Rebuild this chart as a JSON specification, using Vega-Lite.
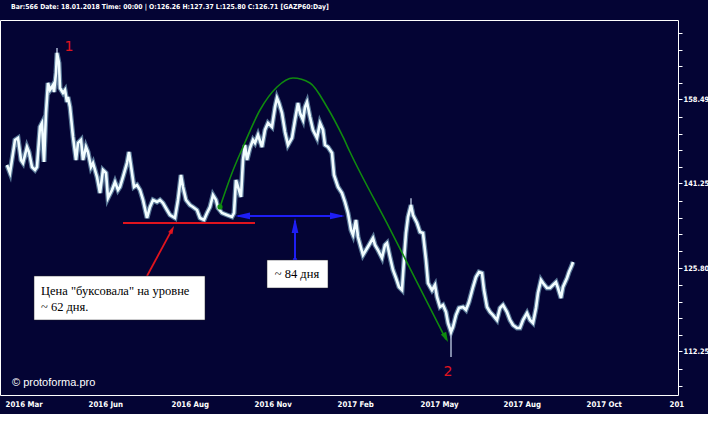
{
  "$schema": "https://vega.github.io/schema/vega-lite/v6.json",
  "width": 678,
  "height": 375,
  "autosize": {"type": "none"},
  "padding": {"left": 0, "top": 20, "right": 30, "bottom": 19},
  "background": "#040434",
  "config": {
    "view": {"stroke": "#ffffff", "strokeWidth": 1, "fill": "#040434"}
  },
  "title": {
    "text": "Bar:566 Date: 18.01.2018 Time: 00:00 | O:126.26 H:127.37 L:125.80 C:126.71  [GAZP60:Day]",
    "anchor": "start",
    "frame": "group",
    "orient": "top",
    "offset": 4,
    "dx": 11,
    "baseline": "alphabetic",
    "color": "#ffffff",
    "font": "DejaVu Sans Condensed, DejaVu Sans, sans-serif",
    "fontSize": 6.8,
    "fontWeight": "bold"
  },
  "datasets": {
    "series": [
      {"n": 7, "price": 144.86}, {"n": 10, "price": 143.29}, {"n": 15, "price": 149.92}, {"n": 18, "price": 150.32},
      {"n": 21, "price": 145.85}, {"n": 23, "price": 145.26}, {"n": 27, "price": 148.48}, {"n": 29, "price": 147.46},
      {"n": 32, "price": 144.46}, {"n": 35, "price": 143.87}, {"n": 37, "price": 144.46}, {"n": 40, "price": 152.61},
      {"n": 42, "price": 153.44}, {"n": 44, "price": 145.46}, {"n": 46, "price": 155.55}, {"n": 48, "price": 162.08},
      {"n": 50, "price": 160.53}, {"n": 53, "price": 161.64}, {"n": 54, "price": 160.09}, {"n": 56, "price": 164.32},
      {"n": 57, "price": 168.89}, {"n": 59, "price": 166.58}, {"n": 60, "price": 160.97}, {"n": 63, "price": 159.88},
      {"n": 65, "price": 160.53}, {"n": 67, "price": 157.92}, {"n": 68, "price": 159.0}, {"n": 70, "price": 156.84},
      {"n": 73, "price": 150.53}, {"n": 76, "price": 145.85}, {"n": 78, "price": 149.29}, {"n": 81, "price": 149.92},
      {"n": 83, "price": 145.85}, {"n": 86, "price": 148.48}, {"n": 88, "price": 147.46}, {"n": 91, "price": 144.46},
      {"n": 93, "price": 145.26}, {"n": 97, "price": 142.51}, {"n": 100, "price": 139.41}, {"n": 103, "price": 143.87},
      {"n": 106, "price": 143.29}, {"n": 108, "price": 138.46}, {"n": 112, "price": 139.99}, {"n": 115, "price": 141.53},
      {"n": 118, "price": 139.99}, {"n": 120, "price": 140.57}, {"n": 123, "price": 142.51}, {"n": 127, "price": 145.26},
      {"n": 129, "price": 147.46}, {"n": 132, "price": 143.29}, {"n": 134, "price": 140.57}, {"n": 137, "price": 140.95},
      {"n": 140, "price": 139.99}, {"n": 143, "price": 138.09}, {"n": 147, "price": 134.72}, {"n": 150, "price": 136.77},
      {"n": 153, "price": 138.09}, {"n": 157, "price": 137.7}, {"n": 160, "price": 138.09}, {"n": 163, "price": 137.51},
      {"n": 167, "price": 136.2}, {"n": 170, "price": 135.27}, {"n": 175, "price": 134.72}, {"n": 178, "price": 138.09},
      {"n": 181, "price": 142.9}, {"n": 183, "price": 140.57}, {"n": 186, "price": 138.09}, {"n": 190, "price": 137.13},
      {"n": 193, "price": 136.77}, {"n": 197, "price": 136.2}, {"n": 200, "price": 134.72}, {"n": 204, "price": 134.35},
      {"n": 207, "price": 135.64}, {"n": 210, "price": 136.77}, {"n": 213, "price": 139.03}, {"n": 216, "price": 138.09},
      {"n": 218, "price": 136.58}, {"n": 222, "price": 135.64}, {"n": 227, "price": 135.27}, {"n": 232, "price": 134.91},
      {"n": 234, "price": 135.64}, {"n": 236, "price": 141.91}, {"n": 238, "price": 140.57}, {"n": 241, "price": 138.66},
      {"n": 243, "price": 145.85}, {"n": 245, "price": 148.88}, {"n": 247, "price": 145.85}, {"n": 250, "price": 148.28},
      {"n": 253, "price": 149.92}, {"n": 255, "price": 149.29}, {"n": 258, "price": 150.94}, {"n": 262, "price": 148.48},
      {"n": 265, "price": 151.98}, {"n": 268, "price": 153.44}, {"n": 272, "price": 152.61}, {"n": 275, "price": 156.84},
      {"n": 277, "price": 158.79}, {"n": 279, "price": 157.7}, {"n": 282, "price": 155.55}, {"n": 285, "price": 151.57},
      {"n": 288, "price": 148.88}, {"n": 292, "price": 150.32}, {"n": 295, "price": 154.07}, {"n": 298, "price": 157.7},
      {"n": 300, "price": 155.55}, {"n": 303, "price": 154.07}, {"n": 305, "price": 156.84}, {"n": 307, "price": 157.92},
      {"n": 310, "price": 154.71}, {"n": 313, "price": 151.98}, {"n": 317, "price": 150.32}, {"n": 320, "price": 153.44},
      {"n": 323, "price": 151.98}, {"n": 325, "price": 148.88}, {"n": 328, "price": 148.48}, {"n": 332, "price": 147.26},
      {"n": 334, "price": 142.9}, {"n": 338, "price": 140.57}, {"n": 342, "price": 139.41}, {"n": 345, "price": 137.7},
      {"n": 348, "price": 135.64}, {"n": 351, "price": 132.52}, {"n": 353, "price": 131.61}, {"n": 356, "price": 134.35},
      {"n": 358, "price": 131.26}, {"n": 361, "price": 129.3}, {"n": 363, "price": 128.06}, {"n": 366, "price": 128.94},
      {"n": 369, "price": 129.83}, {"n": 373, "price": 131.08}, {"n": 375, "price": 129.83}, {"n": 378, "price": 128.94},
      {"n": 382, "price": 127.54}, {"n": 385, "price": 129.83}, {"n": 387, "price": 130.18}, {"n": 390, "price": 127.71},
      {"n": 393, "price": 125.46}, {"n": 396, "price": 124.09}, {"n": 399, "price": 122.57}, {"n": 402, "price": 122.06},
      {"n": 404, "price": 127.19}, {"n": 406, "price": 131.98}, {"n": 408, "price": 134.91}, {"n": 411, "price": 137.13},
      {"n": 413, "price": 135.27}, {"n": 417, "price": 133.8}, {"n": 420, "price": 132.16}, {"n": 423, "price": 131.98},
      {"n": 426, "price": 127.19}, {"n": 428, "price": 123.24}, {"n": 432, "price": 122.06}, {"n": 435, "price": 122.91},
      {"n": 437, "price": 120.91}, {"n": 440, "price": 119.26}, {"n": 443, "price": 119.59}, {"n": 446, "price": 118.44},
      {"n": 448, "price": 116.67}, {"n": 451, "price": 115.24}, {"n": 453, "price": 116.04}, {"n": 456, "price": 117.95},
      {"n": 459, "price": 119.1}, {"n": 463, "price": 119.26}, {"n": 466, "price": 118.77}, {"n": 469, "price": 120.08},
      {"n": 473, "price": 122.57}, {"n": 476, "price": 124.25}, {"n": 479, "price": 125.11}, {"n": 482, "price": 124.94},
      {"n": 484, "price": 122.06}, {"n": 487, "price": 119.26}, {"n": 490, "price": 118.44}, {"n": 493, "price": 117.95},
      {"n": 497, "price": 117.15}, {"n": 500, "price": 119.1}, {"n": 503, "price": 119.59}, {"n": 507, "price": 118.44},
      {"n": 510, "price": 117.15}, {"n": 513, "price": 116.35}, {"n": 517, "price": 115.88}, {"n": 520, "price": 115.88},
      {"n": 523, "price": 117.15}, {"n": 527, "price": 118.28}, {"n": 530, "price": 117.15}, {"n": 533, "price": 116.67},
      {"n": 536, "price": 119.1}, {"n": 538, "price": 121.57}, {"n": 541, "price": 123.75}, {"n": 543, "price": 123.24},
      {"n": 547, "price": 122.4}, {"n": 550, "price": 122.4}, {"n": 553, "price": 122.91}, {"n": 556, "price": 123.41},
      {"n": 558, "price": 122.4}, {"n": 561, "price": 120.73}, {"n": 563, "price": 122.57}, {"n": 567, "price": 124.09},
      {"n": 569, "price": 125.11}, {"n": 572, "price": 126.32}, {"n": 573, "price": 126.84}
    ],
    "wicks": [
      {"n": 451, "price": 116.0, "price2": 111.36},
      {"n": 57, "price": 168.0, "price2": 170.03},
      {"n": 411, "price": 136.5, "price2": 138.4}
    ],
    "segs": [
      {"grp": "red", "n": 123, "price": 133.8, "n2": 255, "price2": 133.8},
      {"grp": "red", "n": 147, "price": 124.43, "n2": 172, "price2": 132.6},
      {"grp": "blue", "n": 238, "price": 135.09, "n2": 342, "price2": 135.09},
      {"grp": "blue", "n": 295, "price": 127.19, "n2": 295, "price2": 134.2}
    ],
    "curve": [
      {"n": 220, "price": 136.77}, {"n": 232, "price": 143.29}, {"n": 243, "price": 148.48},
      {"n": 260, "price": 156.19}, {"n": 277, "price": 161.19}, {"n": 293, "price": 163.19},
      {"n": 310, "price": 162.08}, {"n": 327, "price": 156.84}, {"n": 343, "price": 150.53},
      {"n": 350, "price": 147.46}, {"n": 390, "price": 132.7}, {"n": 446, "price": 114.1}
    ],
    "tips": [
      {"tip": "left", "n": 235, "price": 135.09},
      {"tip": "right", "n": 345, "price": 135.09},
      {"tip": "up", "n": 295, "price": 134.72},
      {"tip": "green", "n": 448, "price": 113.68},
      {"tip": "red", "n": 174, "price": 133.25}
    ],
    "dots": [
      {"grp": "green", "n": 220, "price": 136.77},
      {"grp": "blue", "n": 295, "price": 127.19}
    ],
    "boxes": [
      {"n": 34, "price": 124.43, "n2": 205, "price2": 117.15},
      {"n": 267, "price": 127.19, "n2": 328, "price2": 122.4}
    ],
    "notes": [
      {"role": "box", "n": 41, "price": 121.9, "label": "Цена \"буксовала\" на уровне"},
      {"role": "box", "n": 41, "price": 119.26, "label": "~ 62 дня."},
      {"role": "boxc", "n": 297, "price": 124.77, "label": "~ 84 дня"},
      {"role": "mark", "n": 69, "price": 170.26, "label": "1"},
      {"role": "mark", "n": 448, "price": 109.1, "label": "2"},
      {"role": "wm", "n": 12, "price": 107.47, "label": "© protoforma.pro"}
    ]
  },
  "encoding": {
    "x": {
      "field": "n",
      "type": "quantitative",
      "scale": {"domain": [0, 678], "nice": false, "zero": false},
      "axis": {
        "values": [5, 88, 171, 254, 337, 420, 503, 586, 669],
        "labelExpr": "['2016 Mar','2016 Jun','2016 Aug','2016 Nov','2017 Feb','2017 May','2017 Aug','2017 Oct','201'][indexof([5,88,171,254,337,420,503,586,669], datum.value)]",
        "labelAlign": "left",
        "ticks": false,
        "domain": false,
        "grid": false,
        "title": null,
        "labelColor": "#ffffff",
        "labelFont": "DejaVu Sans Condensed, DejaVu Sans, sans-serif",
        "labelFontSize": 7.8,
        "labelFontWeight": "bold",
        "labelPadding": 5,
        "labelOverlap": false,
        "labelFlush": false,
        "labelBound": false
      }
    },
    "y": {
      "field": "price",
      "type": "quantitative",
      "scale": {"type": "log", "domain": [105.72, 176.68], "nice": false, "zero": false},
      "axis": {
        "orient": "right",
        "values": [107.08, 109.58, 112.25, 114.74, 117.41, 120.14, 122.94, 125.8, 128.73, 131.73, 134.79, 137.93, 141.25, 144.43, 147.79, 151.23, 154.75, 158.49, 162.04, 165.81, 169.68, 173.63],
        "labelExpr": "indexof([112.25,125.8,141.25,158.49], datum.value) >= 0 ? format(datum.value, '.2f') : ''",
        "tickSize": 4,
        "tickColor": "#ffffff",
        "tickWidth": 1,
        "domain": false,
        "grid": false,
        "title": null,
        "labelColor": "#ffffff",
        "labelFont": "DejaVu Sans Condensed, DejaVu Sans, sans-serif",
        "labelFontSize": 7.4,
        "labelFontWeight": "bold",
        "labelPadding": 1,
        "labelOverlap": false,
        "labelFlush": false,
        "labelBound": false
      }
    }
  },
  "layer": [
    {"data": {"name": "series"}, "mark": {"type": "line", "color": "#a9e6f5", "strokeWidth": 5, "opacity": 0.5}},
    {"data": {"name": "wicks"}, "mark": {"type": "rule", "color": "#aab6d0", "strokeWidth": 1.5}, "encoding": {"y2": {"field": "price2"}}},
    {"data": {"name": "series"}, "mark": {"type": "line", "color": "#f2fdff", "strokeWidth": 2.6}},
    {"data": {"name": "segs"}, "transform": [{"filter": "datum.grp == 'red'"}], "mark": {"type": "rule", "color": "#e0141e", "strokeWidth": 1.8}, "encoding": {"x2": {"field": "n2"}, "y2": {"field": "price2"}}},
    {"data": {"name": "segs"}, "transform": [{"filter": "datum.grp == 'blue'"}], "mark": {"type": "rule", "color": "#1e1ef5", "strokeWidth": 2}, "encoding": {"x2": {"field": "n2"}, "y2": {"field": "price2"}}},
    {"data": {"name": "curve"}, "mark": {"type": "line", "color": "#0f8a0f", "strokeWidth": 1.6, "interpolate": "monotone"}},
    {"data": {"name": "tips"}, "transform": [{"filter": "datum.tip == 'left'"}], "mark": {"type": "point", "shape": "M0,0 L-0.45,2 L0.45,2 Z", "filled": true, "opacity": 1, "size": 225, "angle": 270, "color": "#1e1ef5"}},
    {"data": {"name": "tips"}, "transform": [{"filter": "datum.tip == 'right'"}], "mark": {"type": "point", "shape": "M0,0 L-0.45,2 L0.45,2 Z", "filled": true, "opacity": 1, "size": 225, "angle": 90, "color": "#1e1ef5"}},
    {"data": {"name": "tips"}, "transform": [{"filter": "datum.tip == 'up'"}], "mark": {"type": "point", "shape": "M0,0 L-0.45,2 L0.45,2 Z", "filled": true, "opacity": 1, "size": 225, "angle": 0, "color": "#1e1ef5"}},
    {"data": {"name": "tips"}, "transform": [{"filter": "datum.tip == 'green'"}], "mark": {"type": "point", "shape": "M0,0 L-0.6,2 L0.6,2 Z", "filled": true, "opacity": 1, "size": 100, "angle": 153, "color": "#0f8a0f"}},
    {"data": {"name": "tips"}, "transform": [{"filter": "datum.tip == 'red'"}], "mark": {"type": "point", "shape": "M0,0 L-0.6,2 L0.6,2 Z", "filled": true, "opacity": 1, "size": 64, "angle": 28, "color": "#e0141e"}},
    {"data": {"name": "dots"}, "transform": [{"filter": "datum.grp == 'green'"}], "mark": {"type": "circle", "size": 28, "opacity": 1, "color": "#0f8a0f"}},
    {"data": {"name": "dots"}, "transform": [{"filter": "datum.grp == 'blue'"}], "mark": {"type": "circle", "size": 20, "opacity": 1, "color": "#1e1ef5"}},
    {"data": {"name": "boxes"}, "mark": {"type": "rect", "color": "#ffffff", "stroke": "#20202a", "strokeWidth": 0.5}, "encoding": {"x2": {"field": "n2"}, "y2": {"field": "price2"}}},
    {"data": {"name": "notes"}, "transform": [{"filter": "datum.role == 'box'"}], "mark": {"type": "text", "align": "left", "baseline": "middle", "font": "Liberation Serif, serif", "fontSize": 12.5, "color": "#000000"}, "encoding": {"text": {"field": "label"}}},
    {"data": {"name": "notes"}, "transform": [{"filter": "datum.role == 'boxc'"}], "mark": {"type": "text", "align": "center", "baseline": "middle", "font": "Liberation Serif, serif", "fontSize": 12.5, "color": "#000000"}, "encoding": {"text": {"field": "label"}}},
    {"data": {"name": "notes"}, "transform": [{"filter": "datum.role == 'mark'"}], "mark": {"type": "text", "align": "center", "baseline": "middle", "font": "DejaVu Sans, sans-serif", "fontSize": 14, "color": "#e0141e"}, "encoding": {"text": {"field": "label"}}},
    {"data": {"name": "notes"}, "transform": [{"filter": "datum.role == 'wm'"}], "mark": {"type": "text", "align": "left", "baseline": "middle", "font": "Liberation Sans, sans-serif", "fontSize": 11, "color": "#ffffff"}, "encoding": {"text": {"field": "label"}}}
  ]
}
